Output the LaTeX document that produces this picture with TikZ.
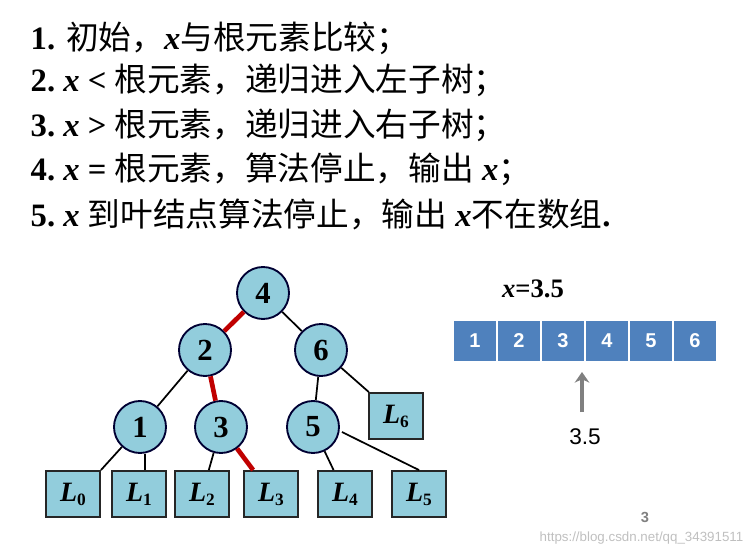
\documentclass[tikz,border=0pt]{standalone}
\usepackage{fontspec}
\usetikzlibrary{arrows.meta}
\setmainfont{Liberation Serif}
\setsansfont{Liberation Sans}
\newfontfamily\cjk{Noto Sans CJK SC}
\newcommand\lsub[1]{\raisebox{-0.3ex}{\fontsize{13}{13}\selectfont\upshape#1}}
\begin{document}
\begin{tikzpicture}[x=0.75pt,y=-0.75pt,
 circ/.style={circle,draw=black!80!blue,line width=1.4pt,fill=myfill,minimum size=52*0.75pt,inner sep=0pt,font=\fontsize{23}{23}\bfseries},
 leaf/.style={draw=black!85,line width=1.4pt,fill=myfill,minimum width=54*0.75pt,minimum height=46*0.75pt,inner sep=0pt,font=\fontsize{21}{21}\bfseries\itshape},
 cell/.style={draw=white,line width=1pt,fill=arr,minimum width=44*0.75pt,minimum height=42*0.75pt,inner sep=0pt,text=white,font=\sffamily\bfseries\fontsize{15}{15}\selectfont},
 edge/.style={line width=1.3pt},
 redge/.style={line width=3.5pt,draw=myred},
 line/.style={anchor=west,font=\fontsize{24.5}{24.5}\selectfont}]
\definecolor{myfill}{HTML}{92CDDC}
\definecolor{arr}{HTML}{4F81BD}
\definecolor{myred}{HTML}{C00000}
\useasboundingbox (0,0) rectangle (753,552);
\node[line] (t1) at (26,38) {\textbf{1.} {\cjk 初始，}\textbf{\textit{x}}{\cjk 与根元素比较；}};
\node[line] (t2) at (26,80) {\textbf{2.\ \textit{x} <} {\cjk 根元素，递归进入左子树；}};
\node[line] (t3) at (26,125) {\textbf{3.\ \textit{x} >} {\cjk 根元素，递归进入右子树；}};
\node[line] (t4) at (26,169) {\textbf{4.\ \textit{x} =} {\cjk 根元素，算法停止，输出} \textbf{\textit{x}}{\cjk ；}};
\node[line] (t5) at (26,214) {\textbf{5.\ \textit{x}} {\cjk 到叶结点算法停止，输出} \textbf{\textit{x}}{\cjk 不在数组}\textbf{.}};
\node[circ] (n4) at (263,293) {4};
\node[circ] (n2) at (205,350) {2};
\node[circ] (n6) at (321,350) {6};
\node[circ] (n1) at (140,427) {1};
\node[circ] (n3) at (221,427) {3};
\node[circ] (n5) at (313,427) {5};
\node[leaf] (l6) at (396,416) {L\lsub{6}};
\node[leaf] (l0) at (73,494) {L\lsub{0}};
\node[leaf] (l1) at (139,494) {L\lsub{1}};
\node[leaf] (l2) at (202,494) {L\lsub{2}};
\node[leaf] (l3) at (271,494) {L\lsub{3}};
\node[leaf] (l4) at (345,494) {L\lsub{4}};
\node[leaf] (l5) at (419,494) {L\lsub{5}};
\draw[redge] (n4) -- (n2);
\draw[edge] (n4) -- (n6);
\draw[edge] (n2) -- (n1);
\draw[redge] (n2) -- (n3);
\draw[edge] (n6) -- (n5);
\draw[edge] (n6) -- (l6);
\draw[edge] (n1) -- (l0.north east);
\draw[edge] (n1.south) ++(5,0) coordinate (c1) -- (c1 |- l1.north);
\draw[edge] (n3) -- (l2);
\draw[redge] (n3) -- (l3);
\draw[edge] (n5) -- (l4);
\draw[edge] (n5.east) ++(2,5) coordinate (c5) -- (l5.north);
\node[font=\fontsize{20}{20}\bfseries] (xl) at (533,289) {\textit{x}=3.5};
\foreach \i in {1,...,6} \node[cell] (a\i) at (453+44*\i-22,341) {\i};
\node[font=\sffamily\fontsize{17}{17}\selectfont] (v) at (585,437) {3.5};
\coordinate (vb) at (582,412);
\draw[line width=2.5pt,draw=gray,-{Stealth[length=8pt,width=11pt]}] (vb) -- (vb |- 0,372);
\node[font=\sffamily\bfseries\fontsize{11}{11}\selectfont,text=gray] (pg) at (645,517) {3};
\node[font=\sffamily\fontsize{10}{10}\selectfont,text=black!25,anchor=east] (wm) at (748,538) {https://blog.csdn.net/qq\_34391511};
\end{tikzpicture}
\end{document}
